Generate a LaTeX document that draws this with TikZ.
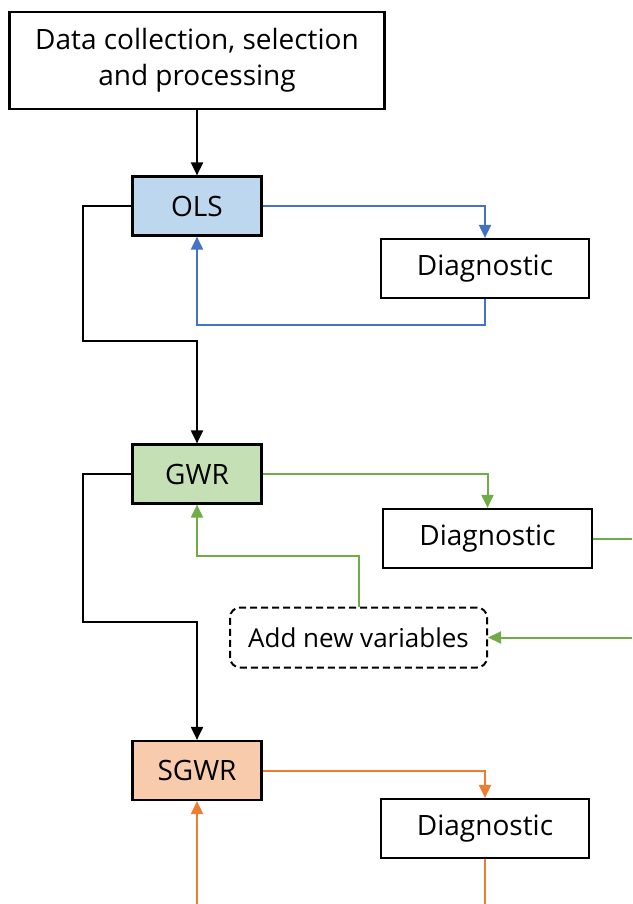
\documentclass[tikz,border=0pt]{standalone}
\usepackage{fontspec}
\setmainfont{Open Sans}
\usetikzlibrary{arrows.meta}
\definecolor{cblue}{HTML}{4472C4}
\definecolor{cgreen}{HTML}{70AD47}
\definecolor{corange}{HTML}{ED7D31}
\definecolor{fblue}{HTML}{BDD7EE}
\definecolor{fgreen}{HTML}{C5E0B4}
\definecolor{forange}{HTML}{F8CBAD}
\begin{document}
\begin{tikzpicture}[x=1pt,y=-1pt,
  boxstyle/.style={draw=black,line width=2.2pt,inner sep=0pt,font=\fontsize{28}{36}\selectfont,align=center},
  conn/.style={line width=2pt,-{Triangle[length=13pt,width=12pt]}},
  plain/.style={line width=2pt}]
\useasboundingbox (0,0) rectangle (632,904);
\node[boxstyle,minimum width=375pt,minimum height=97pt] (data) at (197,60.5) {Data collection, selection\\and processing};
\node[boxstyle,fill=fblue,minimum width=129pt,minimum height=59pt] (ols) at (197,206) {OLS};
\node[boxstyle,minimum width=208pt,minimum height=59pt] (d1) at (485,268.5) {Diagnostic};
\node[boxstyle,fill=fgreen,minimum width=129pt,minimum height=59pt] (gwr) at (197,474) {GWR};
\node[boxstyle,minimum width=209pt,minimum height=59pt] (d2) at (487.5,538.5) {Diagnostic};
\node[boxstyle,font=\fontsize{26}{32}\selectfont,dashed,dash pattern=on 7pt off 4pt,rounded corners=10pt,line width=2pt,minimum width=257pt,minimum height=60pt] (add) at (358.5,637.5) {Add new variables};
\node[boxstyle,fill=forange,minimum width=129pt,minimum height=59pt] (sgwr) at (197,770.5) {SGWR};
\node[boxstyle,minimum width=208pt,minimum height=59pt] (d3) at (485,828.5) {Diagnostic};
\coordinate (e2) at (632,538.5);
\coordinate (e3) at (632,637.5);
\coordinate (b1) at (485,904);
\coordinate (b2) at (197,904);
% black flow
\draw[conn,black] (data) -- (ols);
\draw[conn,black] (ols.west) -- (83,206) -- (83,341) -- (197,341) -- (gwr.north);
\draw[conn,black] (gwr.west) -- (83,474) -- (83,622) -- (197,622) -- (sgwr.north);
% blue
\draw[conn,cblue] (ols.east) -| (d1.north);
\draw[conn,cblue] (d1.south) -- (485,325) -- (197,325) -- (ols.south);
% green
\draw[conn,cgreen] (gwr.east) -| (d2.north);
\draw[plain,cgreen] (d2.east) -- (e2);
\draw[conn,cgreen] (e3) -- (add.east);
\draw[conn,cgreen] (add.north) -- (358.5,556) -- (197,556) -- (gwr.south);
% orange
\draw[conn,corange] (sgwr.east) -| (d3.north);
\draw[plain,corange] (d3.south) -- (b1);
\draw[conn,corange] (b2) -- (sgwr.south);
\end{tikzpicture}
\end{document}
